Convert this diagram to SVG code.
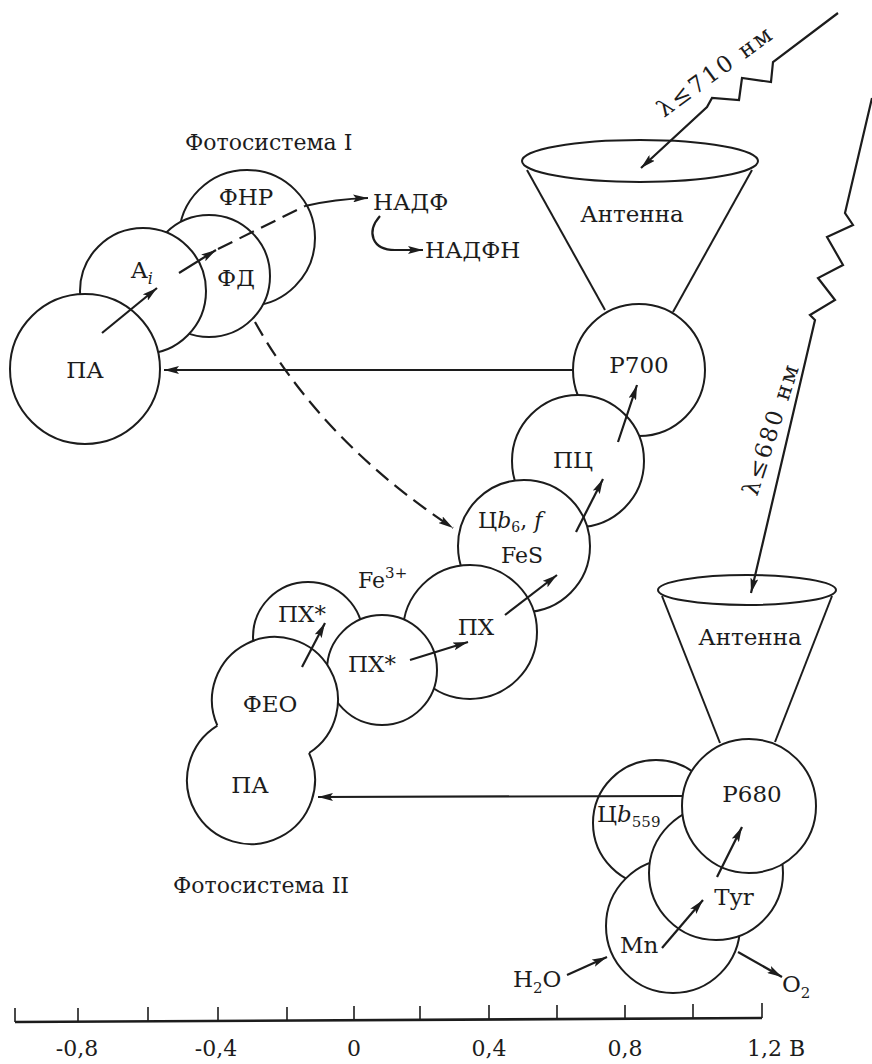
<svg xmlns="http://www.w3.org/2000/svg" width="872" height="1064" viewBox="0 0 872 1064">
<style>
.n{fill:#fff;stroke:#1c1c1c;stroke-width:2}
.nf{fill:#fff;stroke:none}
.o{fill:none;stroke:#1c1c1c;stroke-width:2}
.t{font-family:"DejaVu Serif","Liberation Serif",serif;font-size:23px;fill:#1c1c1c}
.s{font-size:22px}
.c{text-anchor:middle}
.e{fill:none;stroke:#1c1c1c;stroke-width:2.2}
.d{stroke-dasharray:16 8}
.i{font-style:italic}
</style>
<defs>
<marker id="ah" viewBox="0 0 15 8" refX="15" refY="4" markerWidth="15" markerHeight="8" markerUnits="userSpaceOnUse" orient="auto">
<path d="M0,0 L15,4 L0,8 L3,4 Z" fill="#1c1c1c"/>
</marker>
</defs>
<rect width="872" height="1064" fill="#fff"/>

<!-- Antennas -->
<g id="antenna1">
<line class="o" x1="527" y1="170" x2="605" y2="310"/>
<line class="o" x1="752" y1="170" x2="673" y2="312"/>
<ellipse class="o" cx="640" cy="161" rx="118" ry="21"/>
<text class="t c" x="632" y="222">Антенна</text>
</g>
<g id="antenna2">
<line class="o" x1="662" y1="596" x2="720" y2="743"/>
<line class="o" x1="832" y1="596" x2="775" y2="742"/>
<ellipse class="o" cx="747" cy="590" rx="89" ry="15"/>
<text class="t c" x="750" y="645">Антенна</text>
</g>

<!-- Photosystem I, acceptor side -->
<g id="title-ps1"><text class="t s" x="185" y="150">Фотосистема I</text></g>
<g id="fnr"><circle class="n" cx="247" cy="238" r="68"/><text class="t c" x="246" y="205">ФНР</text></g>
<g id="fd"><circle class="n" cx="209" cy="276" r="61"/><text class="t c" x="236" y="286">ФД</text></g>
<g id="ai"><circle class="n" cx="143" cy="291" r="63"/><text class="t" x="131" y="278">A<tspan class="i" font-size="16" dy="6">i</tspan></text></g>
<g id="pa1"><circle class="n" cx="85" cy="369" r="75"/><text class="t c" x="85" y="378">ПА</text></g>
<g id="nadp"><text class="t" x="373" y="210">НАДФ</text></g>
<g id="nadph"><text class="t" x="425" y="258">НАДФН</text></g>

<!-- Electron transport chain -->
<g id="p700"><circle class="n" cx="639" cy="370" r="66"/><text class="t c" x="639" y="373">P700</text></g>
<g id="pc"><circle class="n" cx="578" cy="461" r="66"/><text class="t c" x="573" y="468">ПЦ</text></g>
<g id="cytb6f"><circle class="n" cx="524" cy="546" r="66"/><text class="t s" x="478" y="528">Ц<tspan class="i">b</tspan><tspan font-size="14" dy="4">6</tspan><tspan dy="-4">, </tspan><tspan class="i">f</tspan></text><text class="t s c" x="522" y="563">FeS</text></g>
<g id="px"><circle class="n" cx="470" cy="632" r="67"/><text class="t c" x="476" y="635">ПХ</text></g>
<g id="px-star-1"><circle class="n" cx="308" cy="637" r="55"/><text class="t c" x="302" y="622">ПХ*</text></g>
<g id="px-star-2"><circle class="n" cx="382" cy="670" r="55"/><text class="t c" x="372" y="672">ПХ*</text></g>
<g id="fe3"><text class="t s" x="358" y="588">Fe<tspan font-size="15" dy="-10">3+</tspan></text></g>
<g id="feo"><circle class="nf" cx="275" cy="700" r="63"/><path class="o" d="M217.4,725.6 A63,63 0 1 1 309,753"/><text class="t c" x="270" y="712">ФЕО</text></g>
<g id="pa2"><circle class="nf" cx="251" cy="780" r="64"/><path class="o" d="M309,753 A64,64 0 1 1 217.4,725.6"/><text class="t c" x="250" y="793">ПА</text></g>
<g id="title-ps2"><text class="t s" x="173" y="893">Фотосистема II</text></g>

<!-- Photosystem II donor side -->
<g id="cytb559"><circle class="n" cx="656" cy="823" r="63"/><text class="t" x="597" y="822">Ц<tspan class="i">b</tspan><tspan font-size="15" dy="5">559</tspan></text></g>
<g id="mn"><circle class="n" cx="673" cy="926" r="67"/><text class="t" x="620" y="953">Mn</text></g>
<g id="tyr"><circle class="n" cx="716" cy="873" r="67"/><text class="t c" x="734" y="905">Tyr</text></g>
<g id="p680"><circle class="n" cx="749" cy="806" r="67"/><text class="t c" x="752" y="802">P680</text></g>
<g id="h2o"><text class="t" x="513" y="987">H<tspan font-size="15" dy="6">2</tspan><tspan dy="-6">O</tspan></text></g>
<g id="o2"><text class="t" x="782" y="992">O<tspan font-size="15" dy="6">2</tspan></text></g>

<!-- Connectors -->
<g id="connectors">
<path class="e" d="M102,333 L157,288" marker-end="url(#ah)"/>
<path class="e" d="M179,273 L216,250" marker-end="url(#ah)"/>
<path class="e d" d="M218,249 L305,206"/>
<path class="e" d="M305,206 Q335,199 368,198" marker-end="url(#ah)"/>
<path class="e" d="M380,216 C366,232 372,250 395,250 L423,250" marker-end="url(#ah)"/>
<path class="e d" d="M255,322 C290,385 350,460 453,528" marker-end="url(#ah)"/>
<path class="e" d="M573,370 L164,370" marker-end="url(#ah)"/>
<path class="e" d="M302,667 L325,623" marker-end="url(#ah)"/>
<path class="e" d="M410,660 L468,642" marker-end="url(#ah)"/>
<path class="e" d="M505,615 L557,575" marker-end="url(#ah)"/>
<path class="e" d="M576,532 L603,479" marker-end="url(#ah)"/>
<path class="e" d="M618,442 L637,385" marker-end="url(#ah)"/>
<path class="e" d="M682,796 L318,797" marker-end="url(#ah)"/>
<path class="e" d="M662,948 L703,900" marker-end="url(#ah)"/>
<path class="e" d="M717,877 L742,827" marker-end="url(#ah)"/>
<path class="e" d="M567,975 L607,957" marker-end="url(#ah)"/>
<path class="e" d="M738,952 L782,977" marker-end="url(#ah)"/>
<path class="e" d="M838,13 L773,62 L771,82 L742,78 L739,100 L712,98 L707,107 L641,168" marker-end="url(#ah)"/>
<path class="e" d="M872,98 L845,213 L853,225 L827,237 L843,265 L818,278 L835,300 L810,315 L815,320 L751,593" marker-end="url(#ah)"/>
<text class="t" transform="translate(664,118) rotate(-36)" letter-spacing="2.5">λ≤710 нм</text>
<text class="t" transform="translate(757,497) rotate(-72)" letter-spacing="2.5">λ≤680 нм</text>
</g>

<!-- Axis -->
<g id="axis">
<path d="M15,1022 L762,1018" fill="none" stroke="#1c1c1c" stroke-width="2.6"/>
<g stroke="#1c1c1c" stroke-width="1.6">
<line x1="15" y1="1022" x2="15" y2="1008"/>
<line x1="78" y1="1022" x2="78" y2="1008"/>
<line x1="148" y1="1021" x2="148" y2="1007"/>
<line x1="218" y1="1021" x2="218" y2="1007"/>
<line x1="287" y1="1021" x2="287" y2="1007"/>
<line x1="354" y1="1020" x2="354" y2="1006"/>
<line x1="420" y1="1020" x2="420" y2="1006"/>
<line x1="489" y1="1019" x2="489" y2="1005"/>
<line x1="557" y1="1019" x2="557" y2="1005"/>
<line x1="625" y1="1019" x2="625" y2="1005"/>
<line x1="693" y1="1018" x2="693" y2="1004"/>
<line x1="762" y1="1018" x2="762" y2="1003"/>
</g>
<text class="t s c" x="77" y="1056">-0,8</text>
<text class="t s c" x="216" y="1056">-0,4</text>
<text class="t s c" x="354" y="1056">0</text>
<text class="t s c" x="489" y="1056">0,4</text>
<text class="t s c" x="625" y="1056">0,8</text>
<text class="t s" x="747" y="1056">1,2 B</text>
</g>
</svg>
